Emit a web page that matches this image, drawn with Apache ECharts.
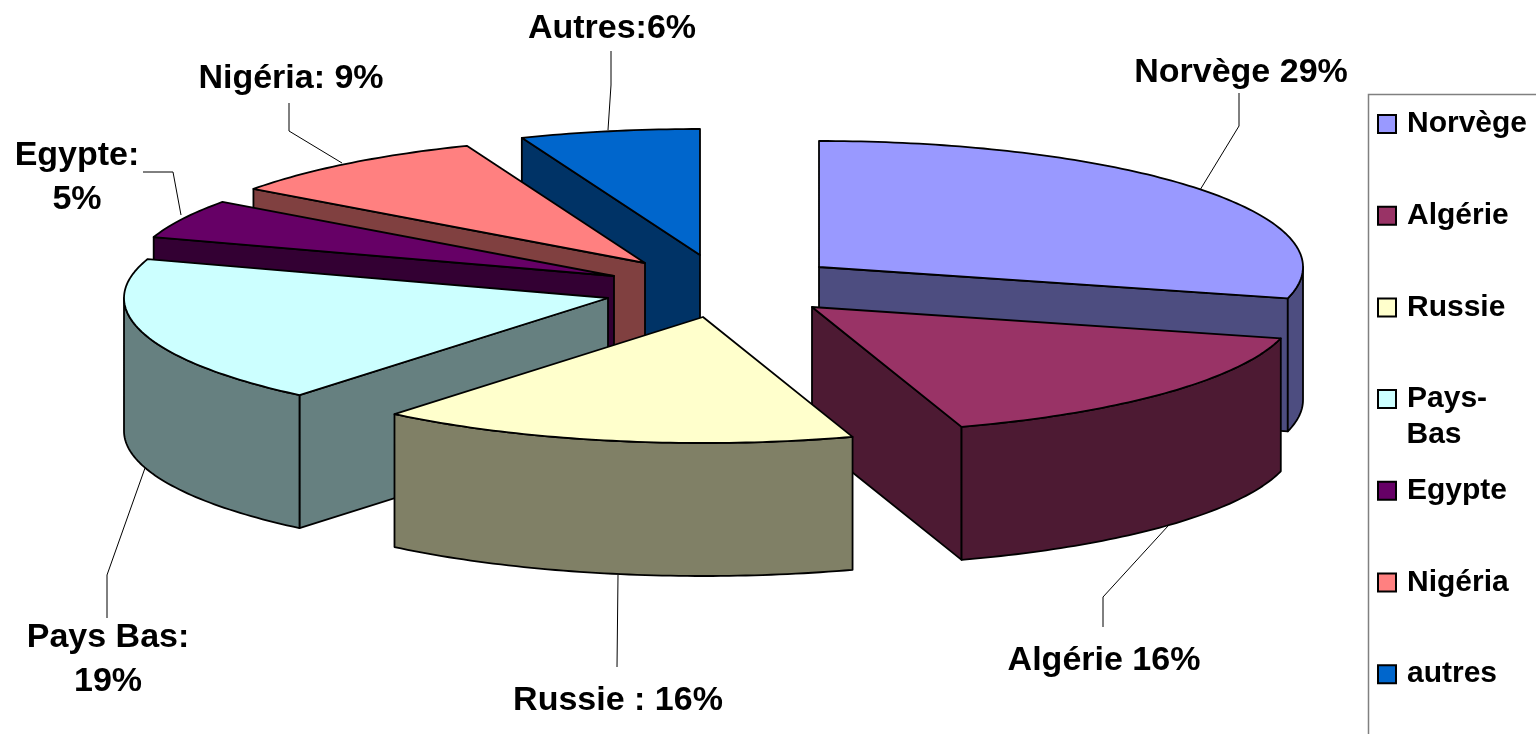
<!DOCTYPE html>
<html>
<head>
<meta charset="utf-8">
<style>html,body{margin:0;padding:0;background:#fff}#c{width:1536px;height:734px}</style>
<script src="https://cdn.jsdelivr.net/npm/echarts@6/dist/echarts.min.js"></script>
</head>
<body>
<div id="c"></div>
<script>
// ---- data ----
const categories = ['Norvège', 'Algérie', 'Russie', 'Pays-Bas', 'Egypte', 'Nigéria', 'autres'];
const shares = [29, 16, 16, 19, 5, 9, 6];

// ---- styles and layout ----
const topColors = ['#9999FF', '#993366', '#FFFFCC', '#CCFFFF', '#660066', '#FF8080', '#0066CC'];
const sideColors = ['#4D4D80', '#4D1A33', '#808066', '#668080', '#330033', '#804040', '#003366'];
const apexes = [[819, 267], [812, 307], [703, 317], [608, 298], [614, 276], [645, 263], [700, 255]];
const paintOrder = [5, 6, 7, 4, 3, 2, 1]; // series z: back slices first, Russie last
const RX = 484, RY = 126, DEPTH = 133;
const FONT = 'Liberation Sans';

const dataLabels = [
  { text: 'Norvège 29%', x: 1241, y: 73 },
  { text: 'Algérie 16%', x: 1104, y: 661 },
  { text: 'Russie : 16%', x: 618, y: 701 },
  { text: 'Pays Bas:\n19%', x: 108, y: 660 },
  { text: 'Egypte:\n5%', x: 77, y: 178 },
  { text: 'Nigéria: 9%', x: 291, y: 79 },
  { text: 'Autres:6%', x: 612, y: 29 }
];
const leaders = [
  [[1239, 93], [1239, 126], [1200, 190]],
  [[1103, 627], [1103, 597], [1168, 526]],
  [[617, 667], [618, 575]],
  [[107, 618], [107, 575], [145, 468]],
  [[143, 172], [173, 172], [181, 215]],
  [[289, 103], [289, 131], [342, 163]],
  [[611, 51], [611, 85], [608, 130]]
];

const total = shares.reduce((a, b) => a + b, 0);
const starts = [];
shares.reduce((acc, v, i) => { starts[i] = acc; return acc + v; }, 0);

function rim(apex, deg, drop) {
  const r = deg * Math.PI / 180;
  return [apex[0] + RX * Math.sin(r), apex[1] - RY * Math.cos(r) + drop];
}
function arc(apex, from, to, drop) {
  const pts = [];
  const n = Math.max(1, Math.ceil(Math.abs(to - from)));
  for (let k = 0; k <= n; k++) pts.push(rim(apex, from + (to - from) * k / n, drop));
  return pts;
}
const lineStyle = (fill) => ({ fill: fill, stroke: '#000', lineWidth: 1.8, lineJoin: 'round' });

function sliceRenderer(i) {
  return function (params, api) {
    const value = api.value(0);
    const a0 = starts[i] / total * 360;
    const a1 = a0 + value / total * 360;
    const c = apexes[i];
    const side = sideColors[i];
    const down = [c[0], c[1] + DEPTH];
    const children = [];
    function cutWall(a) {
      const p = rim(c, a, 0), q = rim(c, a, DEPTH);
      children.push({ type: 'polygon', shape: { points: [c, p, q, down] }, style: lineStyle(side) });
    }
    // flat cut walls, only those that face the viewer
    if (a0 >= 180) cutWall(a0);
    if (a1 <= 180) cutWall(a1);
    // rounded outer wall, only the half that faces the viewer
    const f0 = Math.max(a0, 90), f1 = Math.min(a1, 270);
    if (f1 > f0) {
      const upper = arc(c, f0, f1, 0);
      const lower = arc(c, f0, f1, DEPTH).reverse();
      children.push({ type: 'polygon', shape: { points: upper.concat(lower) }, style: lineStyle(side) });
    }
    // top face
    children.push({
      type: 'polygon',
      shape: { points: [c].concat(arc(c, a0, a1, 0)) },
      style: lineStyle(topColors[i])
    });
    return { type: 'group', children: children };
  };
}

const series = categories.map(function (name, i) {
  return {
    type: 'custom',
    name: name,
    coordinateSystem: 'none',
    z: paintOrder[i],
    silent: true,
    animation: false,
    itemStyle: { color: topColors[i] },
    data: [[shares[i]]],
    renderItem: sliceRenderer(i)
  };
});

const graphics = [
  { type: 'rect', z: 0, shape: { x: 1368.5, y: 94.5, width: 200, height: 700 },
    style: { fill: '#fff', stroke: '#808080', lineWidth: 1.5 } },
  { type: 'text', z: 60, x: 1406.5, y: 435, style: { text: 'Bas', font: 'bold 30px "' + FONT + '"', fill: '#000', textVerticalAlign: 'middle' } }
];
leaders.forEach(function (pts) {
  graphics.push({ type: 'polyline', z: 30, shape: { points: pts }, style: { stroke: '#000', lineWidth: 1, fill: null } });
});
dataLabels.forEach(function (l) {
  graphics.push({ type: 'text', z: 40, x: l.x, y: l.y, style: {
    text: l.text, font: 'bold 34px "' + FONT + '"', fill: '#000',
    textAlign: 'center', textVerticalAlign: 'middle', lineHeight: 44
  } });
});

const chart = echarts.init(document.getElementById('c'), null, { renderer: 'canvas' });
chart.setOption({
  animation: false,
  backgroundColor: '#fff',
  graphic: graphics,
  legend: {
    orient: 'vertical',
    left: 1377,
    top: 109,
    z: 70,
    selectedMode: false,
    icon: 'rect',
    itemWidth: 18,
    itemHeight: 18,
    itemGap: 61.7,
    padding: 0,
    data: categories,
    itemStyle: { borderColor: '#000', borderWidth: 2 },
    formatter: function (n) { return n === 'Pays-Bas' ? 'Pays-' : n; },
    textStyle: { fontFamily: FONT, fontWeight: 'bold', fontSize: 30, color: '#000', lineHeight: 18, padding: [2, 0, 0, 6] }
  },
  series: series
});
</script>
</body>
</html>
